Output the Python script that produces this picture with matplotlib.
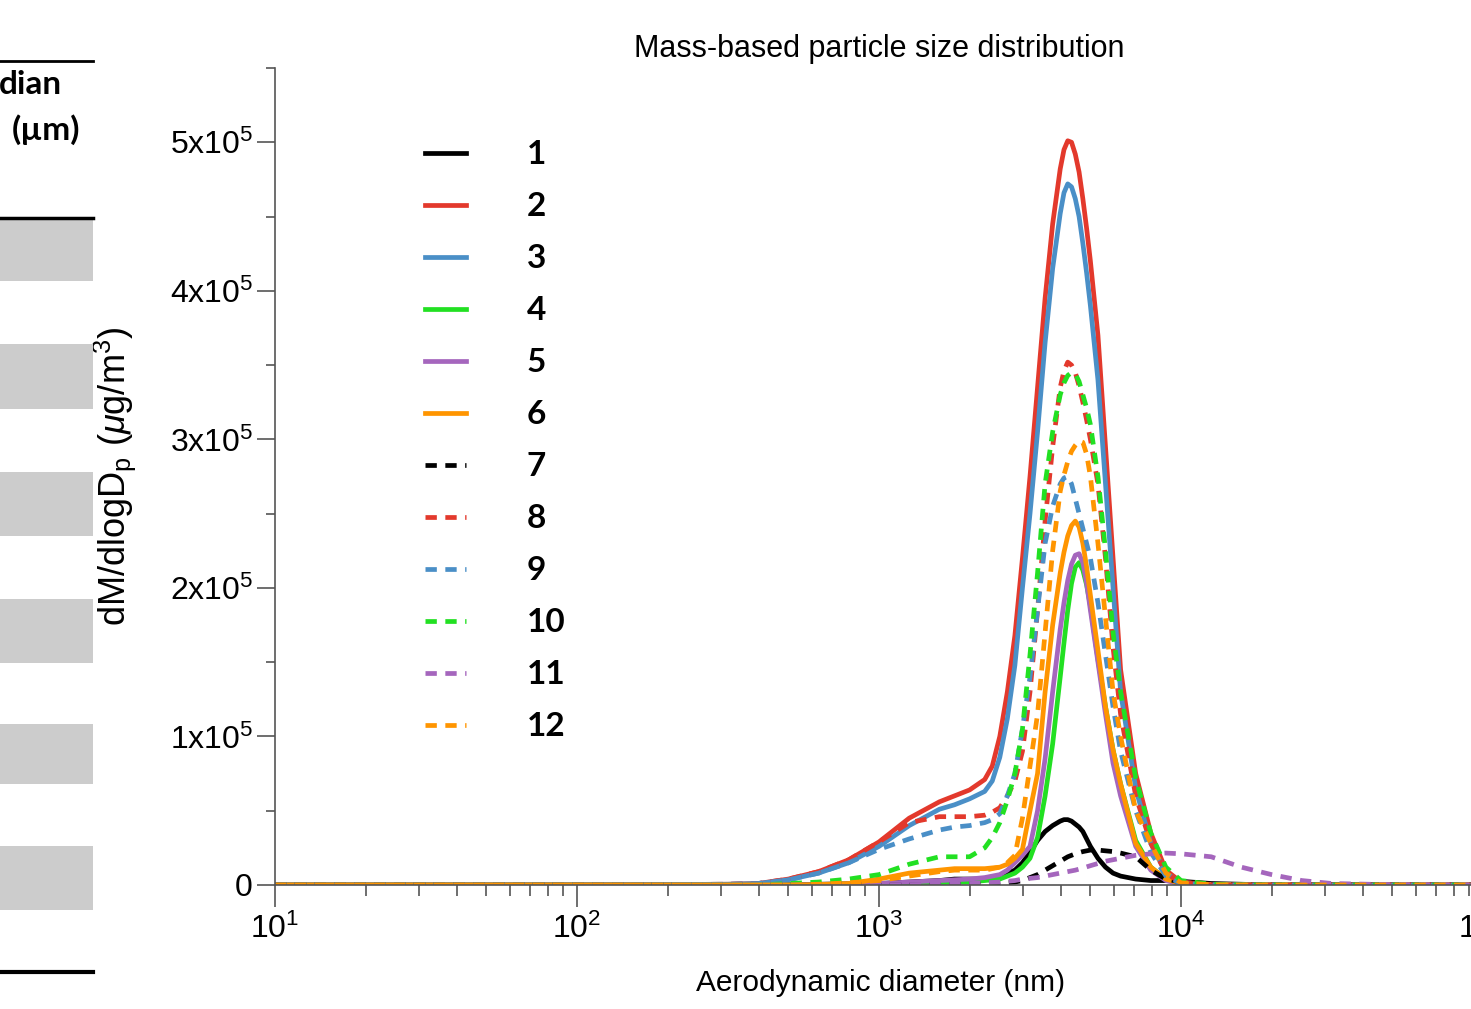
import numpy as np
import matplotlib
matplotlib.use("Agg")
import matplotlib.pyplot as plt
from matplotlib.ticker import MultipleLocator, LogLocator
from matplotlib.patches import Rectangle
from matplotlib.lines import Line2D

plt.rcParams['font.family'] = ['Liberation Sans', 'DejaVu Sans']
plt.rcParams['mathtext.fontset'] = 'custom'
plt.rcParams['mathtext.rm'] = 'Liberation Sans'
plt.rcParams['mathtext.it'] = 'Liberation Sans:italic'
plt.rcParams['mathtext.bf'] = 'Liberation Sans:bold'

# log10 of aerodynamic diameter (nm)
log_d = [1.0, 2.0, 2.5, 2.6, 2.7, 2.8, 2.9, 3.0, 3.1, 3.2, 3.25, 3.3,
         3.35, 3.375, 3.4, 3.425, 3.45,
         3.475, 3.5, 3.525, 3.55, 3.575,
         3.6, 3.6125, 3.625, 3.6375, 3.65, 3.6625, 3.675, 3.6875, 3.7,
         3.725, 3.75, 3.775, 3.8, 3.85, 3.9, 3.95, 4.0, 4.1, 4.2, 4.3, 4.4,
         4.5, 4.7, 5.0]

# dM/dlogDp in units of 1e5 ug/m3
s1 = [0, 0, 0, 0, 0.002, 0.005, 0.008, 0.01, 0.02, 0.03, 0.04, 0.04,
      0.04, 0.05, 0.06, 0.08, 0.1,
      0.15, 0.22, 0.3, 0.36, 0.4,
      0.43, 0.44, 0.44, 0.43, 0.41, 0.39, 0.36, 0.31, 0.26,
      0.18, 0.12, 0.08, 0.06, 0.04, 0.03, 0.03, 0.025, 0.01, 0.005, 0, 0,
      0, 0, 0]
s2 = [0, 0, 0.005, 0.01, 0.04, 0.09, 0.17, 0.29, 0.45, 0.56, 0.60, 0.64,
      0.71, 0.8, 1.0, 1.3, 1.68,
      2.2, 2.75, 3.35, 3.95, 4.45,
      4.82, 4.95, 5.01, 5.0, 4.92, 4.8, 4.62, 4.42, 4.2,
      3.7, 2.95, 2.2, 1.45, 0.75, 0.35, 0.1, 0.02, 0.003, 0, 0, 0,
      0, 0, 0]
s3 = [0, 0, 0.005, 0.01, 0.035, 0.08, 0.15, 0.26, 0.40, 0.51, 0.54, 0.58,
      0.63, 0.7, 0.86, 1.12, 1.48,
      2.0, 2.5, 3.05, 3.65, 4.15,
      4.52, 4.66, 4.72, 4.7, 4.62, 4.5, 4.32, 4.12, 3.9,
      3.4, 2.7, 2.0, 1.3, 0.65, 0.28, 0.08, 0.015, 0.002, 0, 0, 0,
      0, 0, 0]
s4 = [0, 0, 0, 0, 0, 0, 0.002, 0.005, 0.01, 0.015, 0.018, 0.02,
      0.03, 0.035, 0.04, 0.06, 0.08,
      0.12, 0.18, 0.32, 0.6, 0.95,
      1.4, 1.63, 1.85, 2.03, 2.14, 2.17, 2.12, 2.02, 1.88,
      1.52, 1.2, 0.91, 0.68, 0.3, 0.12, 0.04, 0.01, 0.002, 0, 0, 0,
      0, 0, 0]
s5 = [0, 0, 0, 0, 0, 0.003, 0.006, 0.01, 0.02, 0.03, 0.035, 0.04,
      0.05, 0.06, 0.07, 0.1, 0.15,
      0.2, 0.26, 0.5, 0.85, 1.3,
      1.72, 1.9, 2.05, 2.16, 2.22, 2.23, 2.17, 2.03, 1.85,
      1.5, 1.15, 0.82, 0.6, 0.26, 0.1, 0.03, 0.005, 0, 0, 0, 0,
      0, 0, 0]
s6 = [0, 0, 0, 0, 0, 0.003, 0.01, 0.04, 0.08, 0.10, 0.11, 0.11,
      0.11, 0.115, 0.12, 0.14, 0.18,
      0.24, 0.5, 0.75, 1.3, 1.75,
      2.1, 2.24, 2.35, 2.42, 2.45, 2.41, 2.3, 2.14, 1.95,
      1.58, 1.2, 0.91, 0.68, 0.28, 0.12, 0.04, 0.01, 0.002, 0, 0, 0,
      0, 0, 0]
s7 = [0, 0, 0, 0, 0, 0, 0, 0, 0, 0, 0.003, 0.005,
      0.007, 0.008, 0.01, 0.015, 0.02,
      0.03, 0.05, 0.07, 0.1, 0.13,
      0.16, 0.175, 0.19, 0.2, 0.21, 0.218, 0.225, 0.23, 0.235,
      0.235, 0.23, 0.225, 0.215, 0.19, 0.1, 0.04, 0.02, 0.005, 0, 0, 0,
      0, 0, 0]
s8 = [0, 0, 0.005, 0.01, 0.04, 0.09, 0.17, 0.29, 0.42, 0.46, 0.46, 0.46,
      0.47, 0.49, 0.52, 0.6, 0.7,
      0.9, 1.3, 1.85, 2.45, 2.95,
      3.35, 3.46, 3.52, 3.5, 3.45, 3.36, 3.25, 3.13, 3.0,
      2.7, 2.2, 1.6, 1.15, 0.6, 0.28, 0.08, 0.015, 0.002, 0, 0, 0,
      0, 0, 0]
s9 = [0, 0, 0.005, 0.01, 0.035, 0.08, 0.15, 0.24, 0.31, 0.37, 0.39, 0.40,
      0.42, 0.44, 0.48, 0.6, 0.75,
      1.05, 1.4, 1.85, 2.3, 2.55,
      2.7, 2.74, 2.75, 2.7, 2.6, 2.5, 2.4, 2.3, 2.2,
      1.9, 1.55, 1.2, 0.9, 0.5, 0.22, 0.06, 0.01, 0.002, 0, 0, 0,
      0, 0, 0]
s10 = [0, 0, 0, 0, 0.01, 0.02, 0.04, 0.07, 0.14, 0.19, 0.19, 0.19,
       0.25, 0.32, 0.42, 0.57, 0.75,
       1.05, 1.55, 2.1, 2.7, 3.05,
       3.3, 3.38, 3.43, 3.45, 3.44, 3.39, 3.3, 3.21, 3.1,
       2.75, 2.25, 1.7, 1.3, 0.72, 0.35, 0.12, 0.03, 0.005, 0, 0, 0,
       0, 0, 0]
s11 = [0, 0, 0, 0, 0, 0, 0, 0.002, 0.003, 0.005, 0.007, 0.01,
       0.015, 0.017, 0.02, 0.025, 0.03,
       0.04, 0.045, 0.05, 0.06, 0.07,
       0.08, 0.085, 0.09, 0.095, 0.1, 0.107, 0.115, 0.122, 0.13,
       0.145, 0.16, 0.17, 0.18, 0.2, 0.21, 0.215, 0.21, 0.19, 0.12, 0.07, 0.03,
       0.01, 0.002, 0]
s12 = [0, 0, 0, 0, 0, 0.005, 0.015, 0.03, 0.06, 0.09, 0.1, 0.1,
       0.1, 0.11, 0.12, 0.15, 0.2,
       0.45, 0.8, 1.15, 1.7, 2.25,
       2.65, 2.76, 2.85, 2.92, 2.96, 2.99, 2.98, 2.9, 2.75,
       2.3, 1.8, 1.3, 1.0, 0.5, 0.28, 0.08, 0.015, 0.002, 0, 0, 0,
       0, 0, 0]

series = [s1, s2, s3, s4, s5, s6, s7, s8, s9, s10, s11, s12]
labels = [str(i) for i in range(1, 13)]
colors = ['#000000', '#e3392c', '#4a8fc7', '#22e022', '#a566bd', '#ff9500'] * 2
styles = ['-'] * 6 + [(0, (2.4, 1.8))] * 6

diam = 10 ** np.array(log_d)

fig = plt.figure(figsize=(14.71, 10.09), dpi=100)
W, H = 1471, 1009
ax = fig.add_axes([275 / W, (H - 885) / H, (1483 - 275) / W, (885 - 68) / H])

for ys, c, ls, lab in zip(series, colors, styles, labels):
    ax.plot(diam, np.array(ys) * 1e5, color=c, ls=ls, lw=3.4, label=lab,
            solid_joinstyle='round', solid_capstyle='round')

ax.set_xscale('log')
ax.set_xlim(10, 1e5)
ax.set_ylim(0, 5.5e5)
ax.xaxis.set_major_locator(LogLocator(base=10, numticks=10))
ax.xaxis.set_minor_locator(LogLocator(base=10, subs=np.arange(2, 10), numticks=50))
ax.yaxis.set_major_locator(MultipleLocator(1e5))
ax.yaxis.set_minor_locator(MultipleLocator(0.5e5))
yt = [0, 1e5, 2e5, 3e5, 4e5, 5e5]
ax.set_yticks(yt)
ax.set_yticklabels(['0'] + [f'{i}x10$^5$' for i in range(1, 6)])

for s in ['top', 'right']:
    ax.spines[s].set_visible(False)
for s in ['left', 'bottom']:
    ax.spines[s].set_color('#555555')
    ax.spines[s].set_linewidth(1.2)

ax.tick_params(axis='x', which='major', length=16, width=1.2, color='#555555',
               labelsize=23, pad=5)
ax.tick_params(axis='x', which='minor', length=8, width=1.2, color='#555555')
ax.tick_params(axis='y', which='major', length=13, width=1.2, color='#555555',
               labelsize=23, pad=3)
ax.tick_params(axis='y', which='minor', length=6.5, width=1.2, color='#555555')

ax.set_title('Mass-based particle size distribution', fontsize=22, y=1.0135, pad=0)
ax.set_xlabel('Aerodynamic diameter (nm)', fontsize=21.5)
ax.xaxis.set_label_coords(0.5017, -0.103)
ax.set_ylabel(r'dM/dlogD$_\mathrm{p}$ ($\mu$g/m$^3$)', fontsize=26)
ax.yaxis.set_label_coords(-0.113, 0.5)

handles = [Line2D([], [], color=c, ls=ls, lw=3.4) for c, ls in zip(colors, styles)]
leg = ax.legend(handles, labels, loc='upper left', bbox_to_anchor=(0.124, 0.9115),
                frameon=False, borderpad=0, borderaxespad=0, handlelength=1.25,
                handletextpad=1.8, labelspacing=0.69,
                prop={'family': 'Lato', 'weight': 'bold', 'size': 24})

# fragment of the neighbouring table on the left
fig.text(62 / W, 1 - 85 / H, 'dian', ha='right', va='center', fontsize=24,
         family='Lato', weight='bold')
fig.text(80 / W, 1 - 130 / H, '(\u00b5m)', ha='right', va='center', fontsize=24,
         family='Lato', weight='bold')
for yl, lw in [(61, 2.0), (218, 2.5), (972, 3.0)]:
    fig.add_artist(Line2D([0, 93 / W], [1 - yl / H, 1 - yl / H], color='black', lw=lw))
for top, bot in [(220, 281), (344, 409), (472, 536), (599, 663), (724, 784), (846, 910)]:
    fig.add_artist(Rectangle((0, 1 - bot / H), 93 / W, (bot - top) / H,
                             facecolor='#cccccc', edgecolor='none'))

fig.savefig('out.png', dpi=100)
